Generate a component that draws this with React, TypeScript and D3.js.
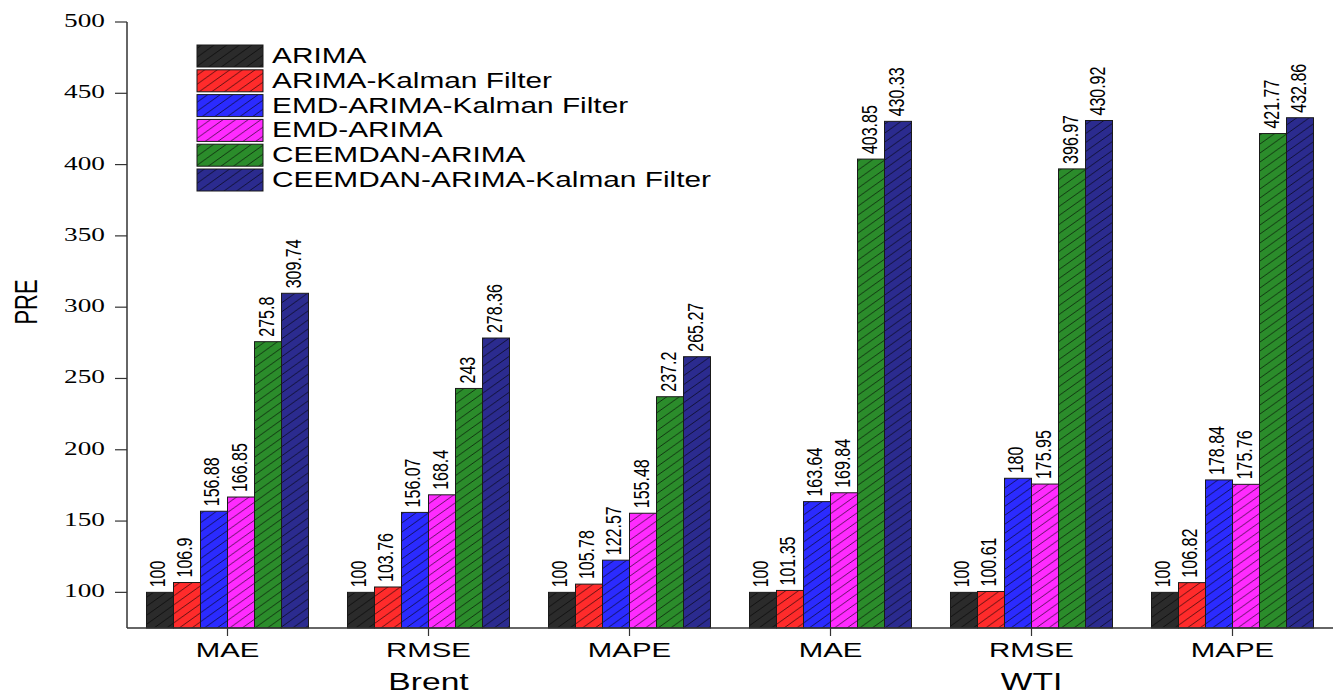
import * as d3 from "d3";

// bar groups (indicator x dataset)
const groups = ["Brent-MAE", "Brent-RMSE", "Brent-MAPE", "WTI-MAE", "WTI-RMSE", "WTI-MAPE"];
const groupLabels = ["MAE", "RMSE", "MAPE", "MAE", "RMSE", "MAPE"];
const datasets = ["Brent", "WTI"];

const seriesNames = [
    "ARIMA",
    "ARIMA-Kalman Filter",
    "EMD-ARIMA-Kalman Filter",
    "EMD-ARIMA",
    "CEEMDAN-ARIMA",
    "CEEMDAN-ARIMA-Kalman Filter",
];
const seriesColors = ["#2b2b2b", "#ff2b2b", "#2b2bff", "#ff2bff", "#2b8c2b", "#2b2b8f"];

const arima = [100, 100, 100, 100, 100, 100];
const arimaKF = [106.9, 103.76, 105.78, 101.35, 100.61, 106.82];
const emdArimaKF = [156.88, 156.07, 122.57, 163.64, 180, 178.84];
const emdArima = [166.85, 168.4, 155.48, 169.84, 175.95, 175.76];
const ceemdanArima = [275.8, 243, 237.2, 403.85, 396.97, 421.77];
const ceemdanArimaKF = [309.74, 278.36, 265.27, 430.33, 430.92, 432.86];
const seriesValues = [arima, arimaKF, emdArimaKF, emdArima, ceemdanArima, ceemdanArimaKF];

const yTicks = [100, 150, 200, 250, 300, 350, 400, 450, 500];

const W = 1334;
const H = 696;
const SX = 1.4; // the source figure is stretched horizontally
const left = 127;
const right = 1333;
const top = 22;
const bottom = 628;

const sans = "Arial, 'Liberation Sans', sans-serif";
const serif = "'Times New Roman', 'Liberation Serif', serif";

export default function App() {
    const x = d3.scaleBand<string>().domain(groups).range([left, right]).paddingInner(0.194).paddingOuter(0.097);
    const inner = d3.scaleBand<string>().domain(seriesNames).range([0, x.bandwidth()]);
    const y = d3.scaleLinear().domain([75, 500]).range([bottom, top]);

    const hatchW = 12.6;
    const hatchH = 9;

    return (
        <svg width={W} height={H} style={{ position: "fixed", left: 0, top: 0, background: "#fff" }}>
            <defs>
                {seriesColors.map((c, i) => (
                    <pattern key={i} id={`hatch${i}`} patternUnits="userSpaceOnUse" width={hatchW} height={hatchH}>
                        <rect width={hatchW} height={hatchH} fill={c} />
                        <path
                            d={`M0,${hatchH} L${hatchW},0 M${-hatchW / 4},${hatchH / 4} L${hatchW / 4},${-hatchH / 4} M${(hatchW * 3) / 4},${(hatchH * 5) / 4} L${(hatchW * 5) / 4},${(hatchH * 3) / 4}`}
                            stroke="#000"
                            strokeOpacity={0.75}
                            strokeWidth={0.8}
                        />
                    </pattern>
                ))}
            </defs>

            {/* bars */}
            {seriesValues.map((vals, si) =>
                vals.map((v, gi) => {
                    const bx = (x(groups[gi]) ?? 0) + (inner(seriesNames[si]) ?? 0);
                    const by = y(v);
                    const bw = inner.bandwidth();
                    return (
                        <g key={`${si}-${gi}`}>
                            <rect
                                x={bx}
                                y={by}
                                width={bw}
                                height={bottom - by}
                                fill={`url(#hatch${si})`}
                                stroke="#1a1a1a"
                                strokeWidth={1}
                            />
                            <text
                                transform={`translate(${bx + bw / 2 + 5.5},${by - 5}) scale(${SX},1) rotate(-90)`}
                                fontFamily={sans}
                                fontSize={16}
                                fill="#000"
                            >
                                {String(v)}
                            </text>
                        </g>
                    );
                })
            )}

            {/* y axis */}
            <line x1={left} x2={left} y1={top} y2={bottom} stroke="#333" strokeWidth={1.5} />
            {yTicks.map((t) => (
                <g key={t}>
                    <line x1={left - 12} x2={left} y1={y(t)} y2={y(t)} stroke="#333" strokeWidth={1.2} />
                    <text
                        transform={`translate(105,${y(t) + 5}) scale(${SX},1)`}
                        textAnchor="end"
                        fontFamily={serif}
                        fontSize={19.5}
                        fill="#000"
                    >
                        {t}
                    </text>
                </g>
            ))}
            <text
                transform={`translate(37,302) scale(${SX},1) rotate(-90)`}
                textAnchor="middle"
                fontFamily={sans}
                fontSize={22}
                fill="#000"
            >
                PRE
            </text>

            {/* x axis */}
            <line x1={left} x2={right} y1={bottom} y2={bottom} stroke="#333" strokeWidth={1.5} />
            {groups.map((g, i) => {
                const cx = (x(g) ?? 0) + x.bandwidth() / 2;
                return (
                    <g key={g}>
                        <line x1={cx} x2={cx} y1={bottom} y2={bottom + 8} stroke="#333" strokeWidth={1.2} />
                        <text
                            transform={`translate(${cx},657) scale(${SX},1)`}
                            textAnchor="middle"
                            fontFamily={sans}
                            fontSize={21}
                            fill="#000"
                        >
                            {groupLabels[i]}
                        </text>
                    </g>
                );
            })}
            {datasets.map((d, di) => {
                const cx = (x(groups[di * 3 + 1]) ?? 0) + x.bandwidth() / 2;
                return (
                    <text
                        key={d}
                        transform={`translate(${cx},690) scale(${SX},1)`}
                        textAnchor="middle"
                        fontFamily={sans}
                        fontSize={24}
                        fill="#000"
                    >
                        {d}
                    </text>
                );
            })}

            {/* legend */}
            {seriesNames.map((s, i) => {
                const ly = 45 + i * 24.8;
                return (
                    <g key={s}>
                        <rect x={197} y={ly} width={66} height={22} fill={`url(#hatch${i})`} stroke="#1a1a1a" strokeWidth={1} />
                        <text
                            transform={`translate(272,${ly + 18}) scale(${SX},1)`}
                            fontFamily={sans}
                            fontSize={21.3}
                            fill="#000"
                        >
                            {s}
                        </text>
                    </g>
                );
            })}
        </svg>
    );
}
